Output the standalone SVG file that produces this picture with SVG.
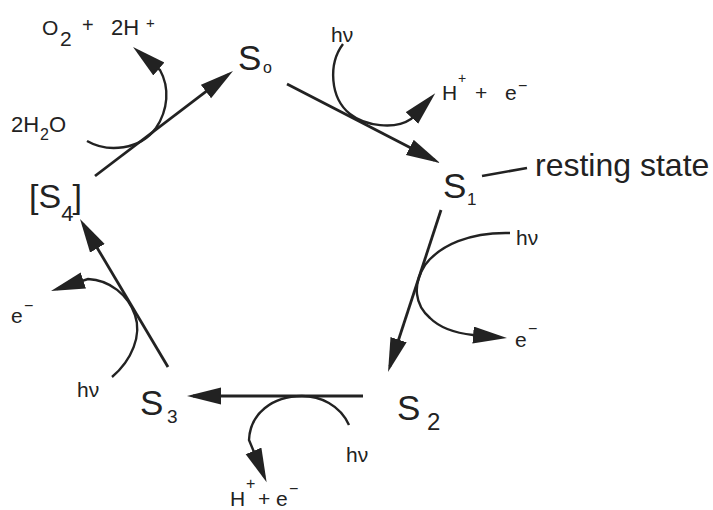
<svg xmlns="http://www.w3.org/2000/svg" width="713" height="510" viewBox="0 0 713 510">
<defs>
<marker id="ah" markerUnits="userSpaceOnUse" markerWidth="36" markerHeight="18" refX="28" refY="8.5" orient="auto">
<path d="M0,0 L34,8.5 L0,17 z" fill="#222"/>
</marker>
<style>
.t{font-family:"Liberation Sans",Arial,sans-serif;fill:#222}
.main{fill:none;stroke:#222;stroke-width:2.8;marker-end:url(#ah)}
.side{fill:none;stroke:#222;stroke-width:2.4;marker-end:url(#ah)}
.S{font-size:35px}
.lab{font-size:21px}
</style>
</defs>
<rect width="713" height="510" fill="#fff"/>
<g id="connectors">
<line class="main" x1="95" y1="176" x2="228.2" y2="74.6"/>
<line class="main" x1="287" y1="84" x2="434.7" y2="160.2"/>
<line class="main" x1="441" y1="210" x2="389.9" y2="366.3"/>
<line class="main" x1="363" y1="396" x2="193" y2="396"/>
<line class="main" x1="168" y1="367" x2="83.1" y2="224.2"/>
<path class="side" d="M87,141 C108,153 140,150 156,128 C168,110 170,88 160,70 L137.6,50.8"/>
<path class="side" d="M343,44 C328,64 330,98 350,114 C365,126 395,130 411,119 L431.1,97.6"/>
<path class="side" d="M510,233 C470,232 440,245 425,265 C412,285 415,305 430,318 C440,328 455,333 473,335 L501,337.4"/>
<path class="side" d="M349,425 C340,405 320,396 302,396 C272,396 250,414 249,440 L264.3,476.7"/>
<path class="side" d="M112,377 C132,360 142,335 135,315 C128,295 110,280 88,279 L56.7,289.2"/>
<line x1="482" y1="176" x2="527" y2="168" stroke="#222" stroke-width="2.6"/>
</g>
<g id="S0"><text class="t S" x="238" y="70">S</text><text class="t" x="263" y="73" font-size="16">o</text></g>
<g id="S1"><text class="t S" x="443" y="198">S</text><text class="t" x="467" y="205" font-size="17">1</text></g>
<g id="S2"><text class="t S" x="397" y="420">S</text><text class="t" x="427" y="430" font-size="24">2</text></g>
<g id="S3"><text class="t S" x="140" y="415">S</text><text class="t" x="167" y="423" font-size="19">3</text></g>
<g id="S4"><text class="t" x="29" y="208" font-size="34">[S<tspan dy="13" font-size="22">4</tspan><tspan dy="-13" dx="-1">]</tspan></text></g>
<g id="resting"><text class="t" x="535" y="176" font-size="32">resting state</text></g>
<g id="o2"><text class="t" x="42" y="35" font-size="21">O</text><text class="t" x="60" y="46" font-size="21">2</text><text class="t" x="82" y="32" font-size="20">+</text><text class="t" x="111" y="35" font-size="22">2H</text><text class="t" x="146" y="28" font-size="15">+</text></g>
<g id="h2o"><text class="t" x="11" y="132" font-size="22">2H</text><text class="t" x="40" y="140" font-size="16">2</text><text class="t" x="49" y="132" font-size="22">O</text></g>
<g id="hv1"><text class="t lab" x="331" y="42">hν</text></g>
<g id="hpe1"><text class="t lab" x="442" y="100">H</text><text class="t" x="458" y="83" font-size="14">+</text><text class="t lab" x="475" y="100">+</text><text class="t lab" x="505" y="100">e</text><text class="t" x="518" y="91" font-size="16">−</text></g>
<g id="hv2"><text class="t lab" x="516" y="245">hν</text></g>
<g id="e2"><text class="t lab" x="515" y="347">e</text><text class="t" x="528" y="334" font-size="16">−</text></g>
<g id="hv3"><text class="t lab" x="346" y="462">hν</text></g>
<g id="hpe3"><text class="t lab" x="230" y="506">H</text><text class="t" x="246" y="489" font-size="16">+</text><text class="t lab" x="258" y="506">+</text><text class="t lab" x="276" y="506">e</text><text class="t" x="289" y="494" font-size="16">−</text></g>
<g id="e4"><text class="t lab" x="11" y="323">e</text><text class="t" x="24" y="311" font-size="16">−</text></g>
<g id="hv4"><text class="t lab" x="77" y="397">hν</text></g>
</svg>
